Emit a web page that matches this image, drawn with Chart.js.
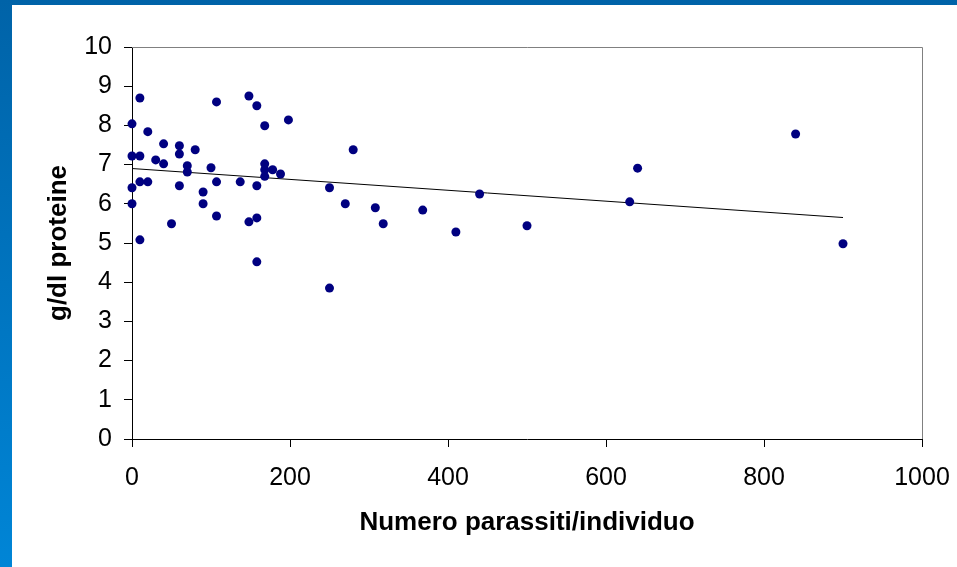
<!DOCTYPE html>
<html>
<head>
<meta charset="utf-8">
<script src="https://cdn.jsdelivr.net/npm/chart.js@4.4.1/dist/chart.umd.min.js"></script>
<style>
  html, body { margin: 0; padding: 0; }
  body {
    width: 957px; height: 567px; overflow: hidden;
    background: linear-gradient(to bottom, #0063a8, #0085d6);
  }
  #panel {
    position: absolute; left: 12px; top: 5px;
    width: 945px; height: 562px; background: #ffffff;
  }
</style>
</head>
<body>
<div id="panel"><canvas id="ChartProteine" width="945" height="562"></canvas></div>
<script>
// numero parassiti per individuo
const parasites = [
  0, 0, 0, 0,
  10, 10, 10, 10,
  20, 20, 30, 40, 40, 50,
  60, 60, 60, 70, 70, 80, 90, 90, 100,
  107, 107, 107, 137, 148, 148,
  158, 158, 158, 158,
  168, 168, 168, 168, 178, 188, 198,
  250, 250, 270, 280, 308, 318, 368, 410, 440, 500,
  630, 640, 840, 900
];
// g/dl proteine
const proteins = [
  8.04, 7.22, 6.41, 6.00,
  8.70, 7.22, 6.56, 5.08,
  7.84, 6.56, 7.12, 7.53, 7.02, 5.49,
  7.48, 7.27, 6.46, 6.97, 6.81, 7.38, 6.30, 6.00, 6.92,
  8.60, 6.56, 5.69, 6.56, 8.75, 5.54,
  8.50, 6.46, 5.64, 4.52,
  7.99, 7.02, 6.87, 6.70, 6.87, 6.76, 8.14,
  6.41, 3.85, 6.00, 7.38, 5.90, 5.49, 5.84, 5.28, 6.25, 5.44,
  6.05, 6.91, 7.78, 4.98
];
// linea di tendenza (estremi)
const trendX = [0, 900];
const trendY = [6.90, 5.65];

const xTicks = [0, 200, 400, 600, 800, 1000];
const yTicks = [0, 1, 2, 3, 4, 5, 6, 7, 8, 9, 10];

const toPoints = (xs, ys) => xs.map((x, i) => ({ x: x, y: ys[i] }));

// bordo grigio dell'area del grafico (sopra e a destra)
const plotBorder = {
  id: 'plotBorder',
  beforeDatasetsDraw(chart) {
    const { ctx, chartArea: a } = chart;
    ctx.save();
    ctx.strokeStyle = '#808080';
    ctx.lineWidth = 1;
    ctx.beginPath();
    ctx.moveTo(a.left, Math.round(a.top) + 0.5);
    ctx.lineTo(Math.round(a.right) + 0.5, Math.round(a.top) + 0.5);
    ctx.lineTo(Math.round(a.right) + 0.5, a.bottom);
    ctx.stroke();
    ctx.restore();
  }
};

const tickFont = { family: 'Liberation Sans, Arial, sans-serif', size: 25 };
const titleFont = { family: 'Liberation Sans, Arial, sans-serif', size: 26, weight: 'bold' };

new Chart(document.getElementById('ChartProteine').getContext('2d'), {
  type: 'scatter',
  data: {
    datasets: [
      {
        label: 'Proteine',
        data: toPoints(parasites, proteins),
        backgroundColor: '#000080',
        borderColor: '#000080',
        pointRadius: 4.5,
        pointBorderWidth: 0,
        clip: false,
        order: 0
      },
      {
        label: 'Tendenza',
        type: 'line',
        data: toPoints(trendX, trendY),
        borderColor: '#000000',
        borderWidth: 1,
        pointRadius: 0,
        fill: false,
        order: 1
      }
    ]
  },
  options: {
    responsive: false,
    animation: false,
    layout: { padding: { top: 42, right: 35, bottom: 0, left: 0 } },
    plugins: {
      legend: { display: false },
      tooltip: { enabled: false }
    },
    scales: {
      x: {
        type: 'linear',
        min: 0,
        max: 1000,
        afterBuildTicks: (scale) => { scale.ticks = xTicks.map(v => ({ value: v })); },
        afterFit: (scale) => { scale.height = 128; scale.paddingRight = 0; },
        border: { color: '#000000', width: 1 },
        grid: { drawOnChartArea: false, drawTicks: true, tickLength: 8, color: '#000000' },
        ticks: { color: '#000000', font: tickFont, padding: 16, maxRotation: 0, callback: (v) => String(v) },
        title: {
          display: true,
          text: 'Numero parassiti/individuo',
          color: '#000000',
          font: titleFont,
          padding: { top: 0, bottom: 29 }
        }
      },
      y: {
        type: 'linear',
        min: 0,
        max: 10,
        afterBuildTicks: (scale) => { scale.ticks = yTicks.map(v => ({ value: v })); },
        afterFit: (scale) => { scale.width = 120; },
        border: { color: '#000000', width: 1 },
        grid: { drawOnChartArea: false, drawTicks: true, tickLength: 8, color: '#000000' },
        ticks: { color: '#000000', font: tickFont, padding: 12, callback: (v) => String(v) },
        title: {
          display: true,
          text: 'g/dl proteine',
          color: '#000000',
          font: titleFont,
          padding: { top: 31, bottom: 0 }
        }
      }
    }
  },
  plugins: [plotBorder]
});
</script>
</body>
</html>
